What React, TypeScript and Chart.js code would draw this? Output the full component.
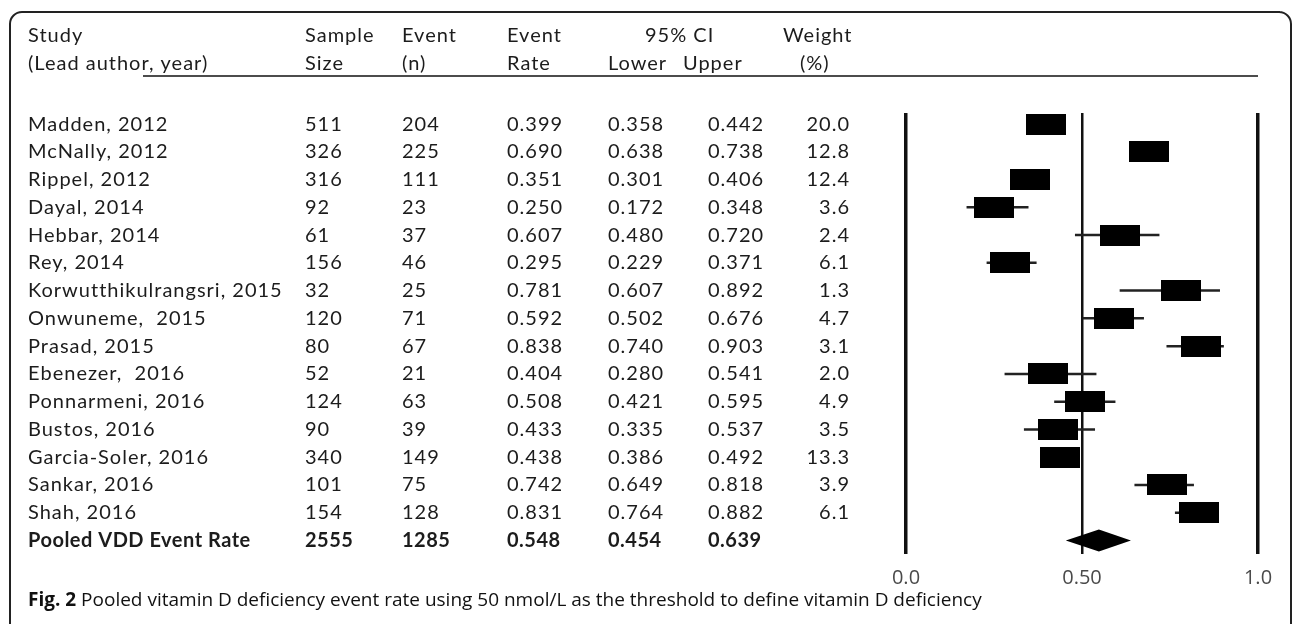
import React, { useEffect, useRef } from "react";
import { Chart, registerables } from "chart.js";

Chart.register(...registerables);

const studies = [
  "Madden, 2012", "McNally, 2012", "Rippel, 2012", "Dayal, 2014", "Hebbar, 2014",
  "Rey, 2014", "Korwutthikulrangsri, 2015", "Onwuneme,  2015", "Prasad, 2015",
  "Ebenezer,  2016", "Ponnarmeni, 2016", "Bustos, 2016", "Garcia-Soler, 2016",
  "Sankar, 2016", "Shah, 2016",
];
const sampleSize = [511, 326, 316, 92, 61, 156, 32, 120, 80, 52, 124, 90, 340, 101, 154];
const events = [204, 225, 111, 23, 37, 46, 25, 71, 67, 21, 63, 39, 149, 75, 128];
const eventRate = [0.399, 0.69, 0.351, 0.25, 0.607, 0.295, 0.781, 0.592, 0.838, 0.404, 0.508, 0.433, 0.438, 0.742, 0.831];
const ciLower = [0.358, 0.638, 0.301, 0.172, 0.48, 0.229, 0.607, 0.502, 0.74, 0.28, 0.421, 0.335, 0.386, 0.649, 0.764];
const ciUpper = [0.442, 0.738, 0.406, 0.348, 0.72, 0.371, 0.892, 0.676, 0.903, 0.541, 0.595, 0.537, 0.492, 0.818, 0.882];
const weights = ["20.0", "12.8", "12.4", "3.6", "2.4", "6.1", "1.3", "4.7", "3.1", "2.0", "4.9", "3.5", "13.3", "3.9", "6.1"];

const pooledLabel = "Pooled VDD Event Rate";
const pooledSample = 2555;
const pooledEvents = 1285;
const pooledRate = 0.548;
const pooledLower = 0.454;
const pooledUpper = 0.639;

const xTicks = [0, 0.5, 1];
const xTickLabels = ["0.0", "0.50", "1.0"];

const caption = "Pooled vitamin D deficiency event rate using 50 nmol/L as the threshold to define vitamin D deficiency";

const TABLE_FONT = "Lato, 'Open Sans', sans-serif";
const TEXT = "#1c1c1c";

function fmt3(v: number) {
  return v.toFixed(3);
}

export default function App() {
  const ref = useRef<HTMLCanvasElement | null>(null);

  useEffect(() => {
    const canvas = ref.current!;
    const box = document.createElement("canvas");
    box.width = 40;
    box.height = 21;
    const bctx = box.getContext("2d")!;
    bctx.fillStyle = "#000";
    bctx.fillRect(0, 0, 40, 21);

    const tablePlugin = {
      id: "forestTable",
      beforeDatasetsDraw(chart: any) {
        const { ctx, scales } = chart;
        const xs = scales.x;
        const ys = scales.y;
        ctx.save();
        ctx.strokeStyle = "#222";
        ctx.lineWidth = 2.5;
        for (let i = 0; i < studies.length; i++) {
          const y = ys.getPixelForValue(i);
          ctx.beginPath();
          ctx.moveTo(xs.getPixelForValue(ciLower[i]), y);
          ctx.lineTo(xs.getPixelForValue(ciUpper[i]), y);
          ctx.stroke();
        }
        ctx.restore();
      },
      afterDraw(chart: any) {
        const { ctx, scales } = chart;
        const xs = scales.x;
        const ys = scales.y;
        ctx.save();
        // pooled diamond
        const py = ys.getPixelForValue(studies.length);
        const pl = xs.getPixelForValue(pooledLower);
        const pr = xs.getPixelForValue(pooledUpper);
        const pc = xs.getPixelForValue(pooledRate);
        ctx.fillStyle = "#000";
        ctx.beginPath();
        ctx.moveTo(pl, py);
        ctx.lineTo(pc, py - 11);
        ctx.lineTo(pr, py);
        ctx.lineTo(pc, py + 11);
        ctx.closePath();
        ctx.fill();

        // frame
        ctx.strokeStyle = "#222";
        ctx.lineWidth = 2;
        ctx.beginPath();
        ctx.moveTo(10, 624);
        ctx.lineTo(10, 24);
        ctx.arcTo(10, 12, 22, 12, 12);
        ctx.lineTo(1280, 12);
        ctx.arcTo(1291, 12, 1291, 24, 12);
        ctx.lineTo(1291, 624);
        ctx.stroke();

        // header underline
        ctx.lineWidth = 1.5;
        ctx.strokeStyle = "#111";
        ctx.beginPath();
        ctx.moveTo(143, 76);
        ctx.lineTo(1258, 76);
        ctx.stroke();

        // table text
        ctx.fillStyle = TEXT;
        ctx.textBaseline = "middle";
        ctx.font = `20px ${TABLE_FONT}`;
        (ctx as any).letterSpacing = "1px";
        const h1 = 36;
        const h2 = 64;
        ctx.textAlign = "left";
        ctx.fillText("Study", 28, h1);
        ctx.fillText("(Lead author, year)", 28, h2);
        ctx.fillText("Sample", 305, h1);
        ctx.fillText("Size", 305, h2);
        ctx.fillText("Event", 402, h1);
        ctx.fillText("(n)", 402, h2);
        ctx.fillText("Event", 507, h1);
        ctx.fillText("Rate", 507, h2);
        ctx.fillText("95% CI", 645, h1);
        ctx.fillText("Lower", 608, h2);
        ctx.fillText("Upper", 683, h2);
        ctx.fillText("Weight", 783, h1);
        ctx.fillText("(%)", 800, h2);

        for (let i = 0; i < studies.length; i++) {
          const y = ys.getPixelForValue(i);
          ctx.textAlign = "left";
          ctx.fillText(studies[i], 28, y);
          ctx.fillText(String(sampleSize[i]), 305, y);
          ctx.fillText(String(events[i]), 402, y);
          ctx.fillText(fmt3(eventRate[i]), 507, y);
          ctx.fillText(fmt3(ciLower[i]), 608, y);
          ctx.fillText(fmt3(ciUpper[i]), 708, y);
          ctx.textAlign = "right";
          ctx.fillText(weights[i], 850, y);
        }
        ctx.font = `bold 20px ${TABLE_FONT}`;
        (ctx as any).letterSpacing = "0.5px";
        ctx.textAlign = "left";
        ctx.fillText(pooledLabel, 28, py);
        ctx.fillText(String(pooledSample), 305, py);
        ctx.fillText(String(pooledEvents), 402, py);
        ctx.fillText(fmt3(pooledRate), 507, py);
        ctx.fillText(fmt3(pooledLower), 608, py);
        ctx.fillText(fmt3(pooledUpper), 708, py);

        // caption
        (ctx as any).letterSpacing = "0px";
        ctx.font = "bold 19px 'Open Sans', sans-serif";
        ctx.fillStyle = "#111";
        const lead = "Fig. 2 ";
        ctx.fillText(lead, 28, 601);
        const w = ctx.measureText(lead).width;
        ctx.font = "19px 'Open Sans', sans-serif";
        ctx.fillText(caption, 28 + w, 601);
        ctx.restore();
      },
    };

    const chart = new Chart(canvas, {
      type: "scatter",
      data: {
        datasets: [
          {
            data: eventRate.map((r, i) => ({ x: r, y: i })),
            pointStyle: box as any,
            pointRadius: 10,
            backgroundColor: "#000",
          },
        ],
      },
      options: {
        animation: false,
        responsive: false,
        events: [],
        layout: { padding: { left: 906, right: 34, top: 113, bottom: 22 } },
        plugins: { legend: { display: false }, tooltip: { enabled: false } },
        scales: {
          x: {
            type: "linear",
            min: 0,
            max: 1,
            afterBuildTicks: (axis: any) => {
              axis.ticks = xTicks.map((v) => ({ value: v }));
            },
            ticks: {
              padding: 12,
              color: "#4a4a4a",
              font: { family: "'Open Sans', sans-serif", size: 20 },
              callback: (v: any) => {
                const idx = xTicks.indexOf(Number(v));
                return idx >= 0 ? xTickLabels[idx] : "";
              },
            },
            grid: {
              display: true,
              drawTicks: false,
              color: "#111",
              lineWidth: (c: any) => (c.index === 1 ? 2.5 : 3.5),
            },
            border: { display: false },
          },
          y: {
            type: "linear",
            display: false,
            reverse: true,
            min: -0.4,
            max: 15.49,
          },
        },
      },
      plugins: [tablePlugin],
    });
    return () => chart.destroy();
  }, []);

  return (
    <div style={{ position: "fixed", left: 0, top: 0, width: 1292, height: 624, background: "#fff" }}>
      <canvas ref={ref} width={1292} height={624} style={{ display: "block" }} />
    </div>
  );
}
